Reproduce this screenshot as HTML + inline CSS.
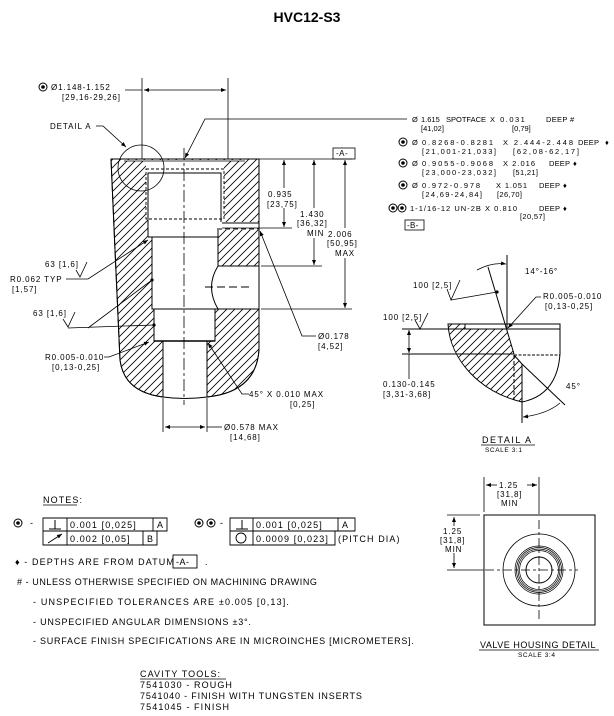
<!DOCTYPE html>
<html><head><meta charset="utf-8"><style>
html,body{margin:0;padding:0;background:#fff;}
svg{display:block;}
text{font-family:"Liberation Sans",sans-serif;fill:#000;}
.s{font-size:8px;letter-spacing:0.9px;}
.r{font-size:7.5px;letter-spacing:0px;}
.n{font-size:9px;letter-spacing:1.1px;}
</style></head><body>
<svg width="614" height="716" viewBox="0 0 614 716" xmlns="http://www.w3.org/2000/svg">
<defs>
<pattern id="h" patternUnits="userSpaceOnUse" width="8" height="8">
<path d="M-2,2 L2,-2 M0,8 L8,0 M6,10 L10,6" stroke="#000" stroke-width="0.8"/>
</pattern>
<marker id="a" viewBox="0 0 10 10" refX="10" refY="5" markerWidth="7" markerHeight="5" orient="auto-start-reverse" markerUnits="userSpaceOnUse">
<path d="M0,1 L10,5 L0,9 z" fill="#000"/>
</marker>
</defs>
<rect width="614" height="716" fill="#fff"/>
<text x="307" y="22" text-anchor="middle" style="font-size:14px;font-weight:bold;letter-spacing:0">HVC12-S3</text>

<!-- MAIN BODY -->
<path d="M111,159 L259,159 L259,350 Q256,392 207,397 L163,397 Q124,392 120,360 L115,250 Z" fill="url(#h)" stroke="#000" stroke-width="1"/>
<path d="M124,160 L245,160 L245,161 L224,161 L224,222 L259,222 L259,230 L218,230 L218,266 L259,266 L259,309 L215,309 L215,341 L207,341 L207,398 L163,398 L163,341 L154,341 L154,309 L152,309 L152,237 L148,237 L148,219 L146,219 L146,161 L124,161 Z" fill="#fff"/>
<path d="M111,159 L259,159 L259,350 Q256,392 207,397 Q185,400 163,397 Q124,392 120,360 L115,250 Z" fill="none" stroke="#000" stroke-width="1"/>
<line x1="124" y1="161" x2="245" y2="161" stroke="#000" stroke-width="0.8"/>
<rect x="146" y="169" width="78" height="50" fill="none" stroke="#000" stroke-dasharray="3,2" stroke-width="0.9"/>
<path d="M148,237 L148,173 L221,173 L221,222" fill="none" stroke="#000"/>
<path d="M148,237 L218,237" stroke="#000" fill="none"/>
<line x1="222" y1="223" x2="259" y2="223" stroke="#000"/>
<line x1="217" y1="229" x2="259" y2="229" stroke="#000" stroke-dasharray="5,3"/>
<path d="M218,230 L218,266 L259,266" fill="none" stroke="#000"/>
<path d="M218,266 Q205,287 218,309" fill="none" stroke="#000"/>
<line x1="205" y1="287" x2="250" y2="287" stroke="#000" stroke-dasharray="8,4"/>
<path d="M152,237 L152,309 L259,309" fill="none" stroke="#000"/>
<path d="M154,309 L154,341 L215,341 L215,309" fill="none" stroke="#000"/>
<line x1="154" y1="341" x2="215" y2="341" stroke="#000" stroke-width="1.6"/>
<path d="M163,341 L163,397 M207,341 L207,397" stroke="#000"/>
<line x1="184" y1="148" x2="184" y2="405" stroke="#000" stroke-dasharray="12,3,3,3" stroke-width="0.8"/>
<circle cx="141" cy="168" r="23" fill="none" stroke="#000" stroke-width="0.8"/>

<line x1="142" y1="78" x2="142" y2="159" stroke="#000" stroke-width="0.8"/>
<line x1="228" y1="78" x2="228" y2="159" stroke="#000" stroke-width="0.8"/>
<line x1="144" y1="90" x2="226" y2="90" stroke="#000" stroke-width="0.8" marker-start="url(#a)" marker-end="url(#a)"/>
<line x1="125" y1="90" x2="142" y2="90" stroke="#000" stroke-width="0.8"/>
<circle cx="43" cy="87" r="4" fill="none" stroke="#000"/><circle cx="43" cy="87" r="1.8"/>
<text class="s" x="51" y="90">Ø1.148-1.152</text>
<text class="s" x="62" y="100">[29,16-29,26]</text>
<text class="s" x="50" y="129">DETAIL A</text>
<path d="M96,126 L103,126 L126,147" fill="none" stroke="#000" stroke-width="0.8" marker-end="url(#a)"/>
<path d="M407,119 L205,119 L185,158" fill="none" stroke="#000" stroke-width="0.8" marker-end="url(#a)"/>

<rect x="333" y="148" width="22" height="11" fill="#fff" stroke="#000" stroke-width="0.8"/>
<text class="s" x="336" y="156" style="letter-spacing:0.5px">-A-</text>
<line x1="259" y1="159" x2="352" y2="159" stroke="#000" stroke-width="0.8"/>
<line x1="222" y1="228" x2="292" y2="228" stroke="#000" stroke-width="0.8"/>
<line x1="261" y1="266" x2="322" y2="266" stroke="#000" stroke-width="0.8"/>
<line x1="261" y1="309" x2="352" y2="309" stroke="#000" stroke-width="0.8"/>
<line x1="284" y1="160" x2="284" y2="227" stroke="#000" stroke-width="0.8" marker-start="url(#a)" marker-end="url(#a)"/>
<line x1="314" y1="160" x2="314" y2="265" stroke="#000" stroke-width="0.8" marker-start="url(#a)" marker-end="url(#a)"/>
<line x1="345" y1="160" x2="345" y2="308" stroke="#000" stroke-width="0.8" marker-start="url(#a)" marker-end="url(#a)"/>
<rect x="266" y="188" width="36" height="20" fill="#fff"/>
<text class="s" x="268" y="197">0.935</text>
<text class="s" x="267" y="207">[23,75]</text>
<rect x="296" y="208" width="30" height="30" fill="#fff"/>
<text class="s" x="300" y="217">1.430</text>
<text class="s" x="297" y="226">[36,32]</text>
<text class="s" x="307" y="236">MIN</text>
<rect x="326" y="228" width="34" height="30" fill="#fff"/>
<text class="s" x="328" y="237">2.006</text>
<text class="s" x="327" y="246">[50,95]</text>
<text class="s" x="335" y="256">MAX</text>

<text class="s" x="45" y="267">63 [1,6]</text>
<path d="M76,270 L80,277 L87,262" fill="none" stroke="#000" stroke-width="0.8"/>
<text class="s" x="10" y="282">R0.062  TYP</text>
<text class="s" x="12" y="292">[1,57]</text>
<path d="M66,279 L88,279 L148,240" fill="none" stroke="#000" stroke-width="0.8" marker-end="url(#a)"/>
<text class="s" x="33" y="316">63 [1,6]</text>
<path d="M63,319 L68,327 L75,312" fill="none" stroke="#000" stroke-width="0.8"/>
<path d="M68,328 L154,325 M88,328 L152,280" fill="none" stroke="#000" stroke-width="0.8"/>
<circle cx="152" cy="280" r="1.6"/><circle cx="154" cy="325" r="1.6"/>
<text class="s" x="45" y="360">R0.005-0.010</text>
<text class="s" x="52" y="370">[0,13-0,25]</text>
<path d="M104,357 L109,357 L149,342" fill="none" stroke="#000" stroke-width="0.8" marker-end="url(#a)"/>
<path d="M208,343 L242,394 L249,394" fill="none" stroke="#000" stroke-width="0.8" marker-start="url(#a)"/>
<text class="s" x="249" y="397">45° X 0.010  MAX</text>
<text class="s" x="290" y="407">[0,25]</text>
<text class="s" x="318" y="339">Ø0.178</text>
<text class="s" x="318" y="349">[4,52]</text>
<path d="M316,336 L302,336 L260,231" fill="none" stroke="#000" stroke-width="0.8" marker-end="url(#a)"/>
<line x1="163" y1="398" x2="163" y2="432" stroke="#000" stroke-width="0.8"/>
<line x1="207" y1="398" x2="207" y2="432" stroke="#000" stroke-width="0.8"/>
<line x1="165" y1="427" x2="205" y2="427" stroke="#000" stroke-width="0.8" marker-start="url(#a)" marker-end="url(#a)"/>
<line x1="207" y1="427" x2="222" y2="427" stroke="#000" stroke-width="0.8"/>
<text class="s" x="224" y="430">Ø0.578  MAX</text>
<text class="s" x="230" y="440">[14,68]</text>

<!-- right callouts -->
<text class="r" x="412" y="122">Ø</text>
<text class="r" x="421" y="122">1.615</text>
<text class="r" x="446" y="122">SPOTFACE</text>
<text class="r" x="490" y="122" style="letter-spacing:1.5px">X 0.031</text>
<text class="r" x="546" y="122" style="letter-spacing:0.3px">DEEP</text>
<text class="r" x="570" y="122">#</text>
<text class="r" x="421" y="131">[41,02]</text>
<text class="r" x="512" y="131">[0,79]</text>
<circle cx="403" cy="142" r="4" fill="none" stroke="#000"/><circle cx="403" cy="142" r="1.8"/>
<text class="r" x="412" y="145">Ø</text>
<text class="r" x="422" y="145" textLength="71" lengthAdjust="spacing">0.8268-0.8281</text>
<text class="r" x="503" y="145" textLength="70" lengthAdjust="spacing">X 2.444-2.448</text>
<text class="r" x="578" y="145" textLength="21" lengthAdjust="spacing">DEEP</text>
<text class="r" x="605" y="145">♦</text>
<text class="r" x="422" y="154" textLength="74" lengthAdjust="spacing">[21,001-21,033]</text>
<text class="r" x="513" y="154" textLength="66" lengthAdjust="spacing">[62,08-62,17]</text>
<circle cx="403" cy="163" r="4" fill="none" stroke="#000"/><circle cx="403" cy="163" r="1.8"/>
<text class="r" x="412" y="166">Ø</text>
<text class="r" x="422" y="166" textLength="71" lengthAdjust="spacing">0.9055-0.9068</text>
<text class="r" x="503" y="166" textLength="32" lengthAdjust="spacing">X 2.016</text>
<text class="r" x="549" y="166" textLength="21" lengthAdjust="spacing">DEEP</text>
<text class="r" x="573" y="166">♦</text>
<text class="r" x="422" y="175" textLength="74" lengthAdjust="spacing">[23,000-23,032]</text>
<text class="r" x="513" y="175" textLength="25" lengthAdjust="spacing">[51,21]</text>
<circle cx="403" cy="185" r="4" fill="none" stroke="#000"/><circle cx="403" cy="185" r="1.8"/>
<text class="r" x="412" y="188">Ø</text>
<text class="r" x="422" y="188" textLength="58" lengthAdjust="spacing">0.972-0.978</text>
<text class="r" x="496" y="188" textLength="31" lengthAdjust="spacing">X 1.051</text>
<text class="r" x="539" y="188" textLength="21" lengthAdjust="spacing">DEEP</text>
<text class="r" x="563" y="188">♦</text>
<text class="r" x="422" y="197" textLength="60" lengthAdjust="spacing">[24,69-24,84]</text>
<text class="r" x="497" y="197" textLength="25" lengthAdjust="spacing">[26,70]</text>
<circle cx="393" cy="208" r="4" fill="none" stroke="#000"/><circle cx="393" cy="208" r="1.8"/>
<circle cx="402" cy="208" r="4" fill="none" stroke="#000"/><circle cx="402" cy="208" r="1.8"/>
<text class="r" x="410" y="211" textLength="107" lengthAdjust="spacing">1-1/16-12 UN-2B X 0.810</text>
<text class="r" x="539" y="211" textLength="21" lengthAdjust="spacing">DEEP</text>
<text class="r" x="563" y="211">♦</text>
<text class="r" x="520" y="219" textLength="25" lengthAdjust="spacing">[20,57]</text>
<rect x="405" y="220" width="19" height="10" fill="none" stroke="#000" stroke-width="0.8"/>
<text class="s" x="407" y="228" style="letter-spacing:0.3px">-B-</text>

<!-- DETAIL A -->
<path d="M448,324 L465,324 L465,329 L507,329 L514,354 L522,364 L522,402 C480,392 450,360 448,324 Z" fill="url(#h)"/>
<path d="M448,324 L560,324 L560,354 Q557,395 522,402 C480,392 450,360 448,324 Z" fill="none" stroke="#000"/>
<line x1="465" y1="324" x2="465" y2="329" stroke="#000"/>
<line x1="402" y1="329" x2="560" y2="329" stroke="#000"/>
<line x1="402" y1="354" x2="514" y2="354" stroke="#000"/>
<line x1="514" y1="355" x2="560" y2="355" stroke="#000" stroke-dasharray="3,1.5"/>
<line x1="488" y1="267" x2="514" y2="354" stroke="#000"/>
<line x1="514" y1="355" x2="514" y2="400" stroke="#000" stroke-dasharray="4,2"/>
<line x1="522" y1="364" x2="522" y2="423" stroke="#000"/>
<line x1="514" y1="355" x2="522" y2="364" stroke="#000"/>
<line x1="522" y1="364" x2="565" y2="405" stroke="#000"/>
<line x1="507" y1="255" x2="507" y2="329" stroke="#000"/>
<path d="M477,270 Q492,262 506,264" fill="none" stroke="#000" stroke-width="0.8" marker-end="url(#a)"/>
<text class="s" x="525" y="274">14°-16°</text>
<text class="s" x="413" y="288">100 [2,5]</text>
<path d="M447,289 L451,300 L460,280" fill="none" stroke="#000" stroke-width="0.8"/>
<path d="M451,300 L497,292" fill="none" stroke="#000" stroke-width="0.8"/><circle cx="497" cy="292" r="1.6"/>
<text class="s" x="543" y="299">R0.005-0.010</text>
<text class="s" x="545" y="309">[0,13-0,25]</text>
<path d="M541,297 L536,297 L508,328" fill="none" stroke="#000" stroke-width="0.8" marker-end="url(#a)"/>
<text class="s" x="383" y="320">100 [2,5]</text>
<path d="M415,320 L420,329 L428,313" fill="none" stroke="#000" stroke-width="0.8"/>
<line x1="409" y1="330" x2="409" y2="353" stroke="#000" stroke-width="0.8" marker-start="url(#a)" marker-end="url(#a)"/>
<line x1="409" y1="354" x2="409" y2="379" stroke="#000" stroke-width="0.8"/>
<text class="s" x="383" y="387">0.130-0.145</text>
<text class="s" x="383" y="397">[3,31-3,68]</text>
<path d="M523,417 Q547,414 560,403" fill="none" stroke="#000" stroke-width="0.8" marker-start="url(#a)"/>
<text class="s" x="566" y="389">45°</text>
<text x="482" y="443" style="font-size:9px;letter-spacing:1.5px">DETAIL  A</text>
<line x1="481" y1="445" x2="535" y2="445" stroke="#000" stroke-width="0.8"/>
<text x="485" y="452" style="font-size:6.5px;letter-spacing:0.6px">SCALE  3:1</text>

<!-- VALVE HOUSING -->
<rect x="484" y="515" width="111" height="110" fill="none" stroke="#000"/>
<line x1="447" y1="570" x2="484" y2="570" stroke="#000" stroke-width="0.8"/>
<line x1="485" y1="570" x2="578" y2="570" stroke="#000" stroke-width="0.8" stroke-dasharray="9,3,3,3"/>
<line x1="539" y1="520" x2="539" y2="622" stroke="#000" stroke-width="0.8" stroke-dasharray="9,3,3,3"/>
<line x1="539" y1="477" x2="539" y2="514" stroke="#000" stroke-width="0.8"/>
<line x1="484" y1="477" x2="484" y2="512" stroke="#000" stroke-width="0.8"/>
<line x1="447" y1="515" x2="480" y2="515" stroke="#000" stroke-width="0.8"/>
<line x1="486" y1="485" x2="497" y2="485" stroke="#000" stroke-width="0.8" marker-start="url(#a)"/>
<line x1="527" y1="485" x2="537" y2="485" stroke="#000" stroke-width="0.8" marker-end="url(#a)"/>
<line x1="454" y1="517" x2="454" y2="526" stroke="#000" stroke-width="0.8" marker-start="url(#a)"/>
<line x1="454" y1="553" x2="454" y2="568" stroke="#000" stroke-width="0.8" marker-end="url(#a)"/>
<text class="s" x="499" y="488">1.25</text>
<text class="s" x="497" y="497">[31,8]</text>
<text class="s" x="501" y="506">MIN</text>
<text class="s" x="443" y="534">1.25</text>
<text class="s" x="440" y="543">[31,8]</text>
<text class="s" x="445" y="552">MIN</text>
<circle cx="539" cy="570" r="36" fill="none" stroke="#000" stroke-width="0.8"/>
<circle cx="539" cy="570" r="19.5" fill="none" stroke="#000" stroke-width="0.7"/>
<circle cx="539" cy="570" r="21" fill="none" stroke="#000" stroke-width="0.7"/>
<circle cx="539" cy="570" r="22.5" fill="none" stroke="#000" stroke-width="0.7"/>
<circle cx="539" cy="570" r="24" fill="none" stroke="#000" stroke-width="0.7"/>
<circle cx="539" cy="570" r="13" fill="none" stroke="#000" stroke-width="1"/>
<text x="480" y="648" style="font-size:9px;letter-spacing:1.5px" textLength="117" lengthAdjust="spacing">VALVE HOUSING DETAIL</text>
<line x1="479" y1="650" x2="599" y2="650" stroke="#000" stroke-width="0.8"/>
<text x="518" y="657" style="font-size:6.5px;letter-spacing:0.6px">SCALE  3:4</text>

<!-- NOTES -->
<text class="n" x="43" y="503">NOTES:</text>
<line x1="43" y1="505" x2="77" y2="505" stroke="#000" stroke-width="0.8"/>
<circle cx="18" cy="523" r="4" fill="none" stroke="#000"/><circle cx="18" cy="523" r="1.8"/>
<text class="n" x="30" y="526">-</text>
<path d="M43,518 H167 V531 H43 Z M43,531 H157 V545 H43 Z M67,518 V545 M153,518 V531 M143,531 V545" fill="none" stroke="#000" stroke-width="0.9"/>
<path d="M55,520 V529 M49,529 H61" stroke="#000" fill="none"/>
<line x1="48" y1="543" x2="62" y2="534" stroke="#000" stroke-width="0.9" marker-end="url(#a)"/>
<text class="n" x="70" y="528">0.001 [0,025]</text><text class="n" x="157" y="528">A</text>
<text class="n" x="70" y="542">0.002 [0,05]</text><text class="n" x="147" y="542">B</text>
<circle cx="199" cy="523" r="4" fill="none" stroke="#000"/><circle cx="199" cy="523" r="1.8"/>
<circle cx="211" cy="523" r="4" fill="none" stroke="#000"/><circle cx="211" cy="523" r="1.8"/>
<text class="n" x="220" y="526">-</text>
<path d="M230,518 H355 V531 H230 Z M230,531 H335 V545 H230 Z M253,518 V545 M338,518 V531" fill="none" stroke="#000" stroke-width="0.9"/>
<path d="M242,520 V529 M236,529 H248" stroke="#000" fill="none"/>
<circle cx="241" cy="538" r="5" fill="none" stroke="#000" stroke-width="0.9"/>
<text class="n" x="256" y="528">0.001 [0,025]</text><text class="n" x="342" y="528">A</text>
<text class="n" x="256" y="542">0.0009 [0,023]</text><text class="n" x="338" y="542">(PITCH DIA)</text>
<text class="n" x="15" y="565">♦  -  DEPTHS ARE FROM DATUM</text>
<rect x="173" y="555" width="24" height="13" fill="none" stroke="#000" stroke-width="0.9"/>
<text class="n" x="176" y="565" style="letter-spacing:0.5px">-A-</text>
<text class="n" x="205" y="565">.</text>
<text class="n" x="17" y="585" textLength="301" lengthAdjust="spacing">#  -  UNLESS OTHERWISE SPECIFIED ON MACHINING DRAWING</text>
<text class="n" x="33" y="605" textLength="257" lengthAdjust="spacing">-  UNSPECIFIED TOLERANCES ARE ±0.005 [0,13].</text>
<text class="n" x="33" y="625" textLength="219" lengthAdjust="spacing">-  UNSPECIFIED ANGULAR DIMENSIONS ±3°.</text>
<text class="n" x="33" y="644" textLength="382" lengthAdjust="spacing">-  SURFACE FINISH SPECIFICATIONS ARE IN MICROINCHES [MICROMETERS].</text>
<text class="n" x="140" y="677">CAVITY TOOLS:</text>
<line x1="140" y1="679" x2="226" y2="679" stroke="#000" stroke-width="0.8"/>
<text class="n" x="140" y="688">7541030 - ROUGH</text>
<text class="n" x="140" y="699" textLength="223" lengthAdjust="spacing">7541040 - FINISH WITH TUNGSTEN INSERTS</text>
<text class="n" x="140" y="710">7541045 - FINISH</text>
</svg>
</body></html>
